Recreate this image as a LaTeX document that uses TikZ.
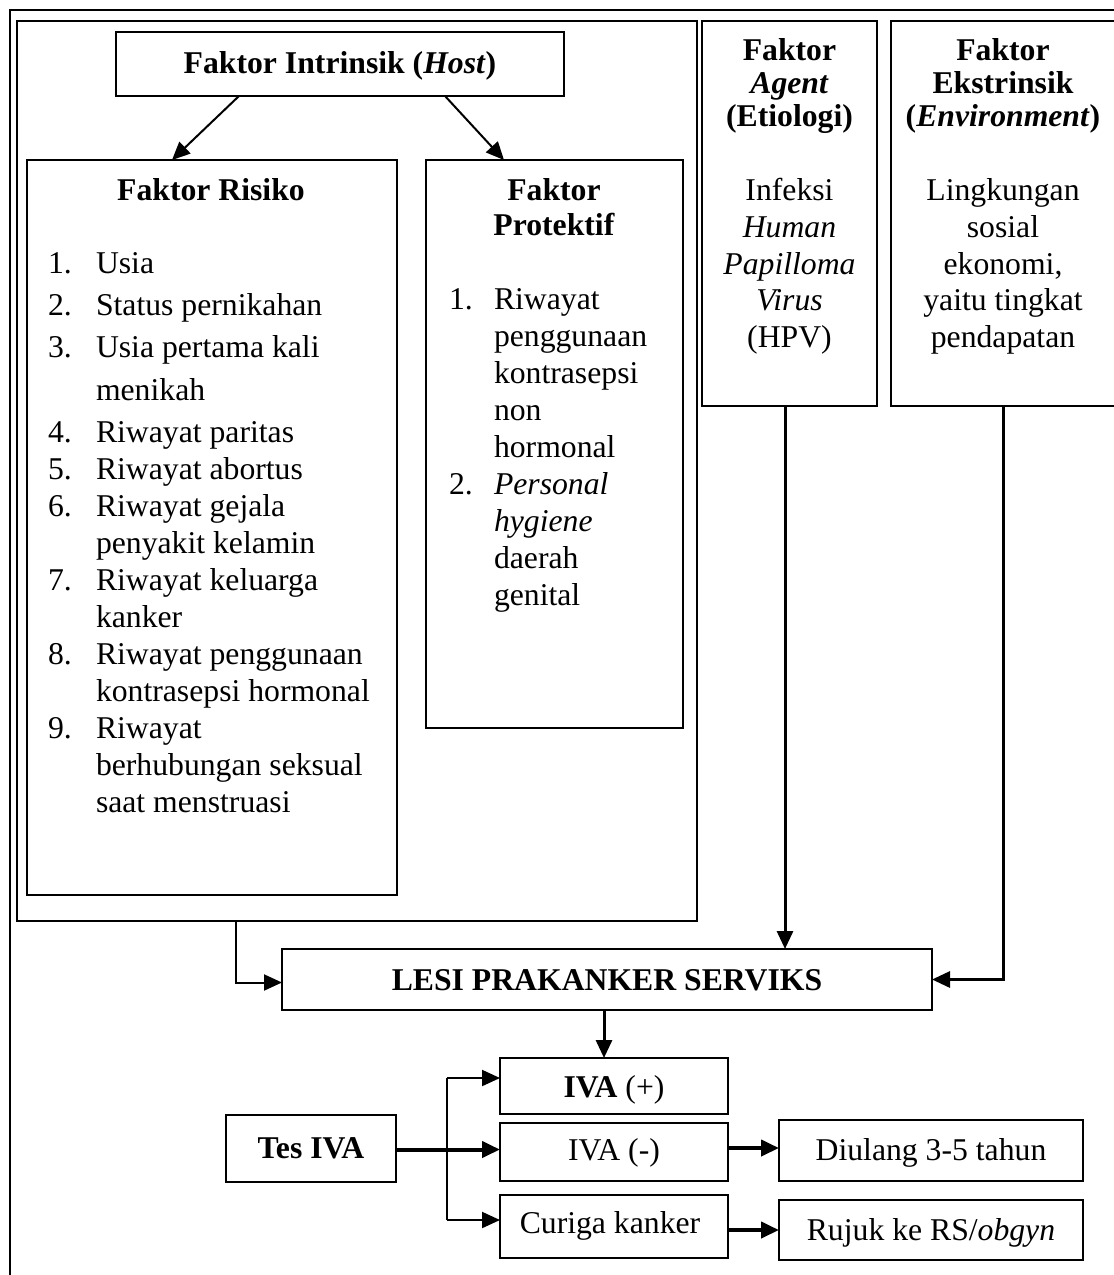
\documentclass[tikz,border=0pt]{standalone}
\usepackage{fontspec}
\setmainfont{Liberation Serif}
\usetikzlibrary{arrows.meta}
\begin{document}
\begin{tikzpicture}[x=1pt,y=-1pt,
  every node/.style={font=\fontsize{31.7}{37}\selectfont, inner sep=0pt, outer sep=0pt},
  box/.style={draw, line width=2pt, anchor=north west},
  thinbox/.style={draw, line width=1.2pt, anchor=north west},
  lbl/.style={anchor=base},
  lbll/.style={anchor=base west},
  tip/.style={-{Triangle[length=18pt,width=16pt]}},
  conn/.style={line width=2pt, tip},
  heavy/.style={line width=3pt, tip},
  thickconn/.style={line width=4pt, tip},
  plain/.style={line width=2pt}
]
\useasboundingbox (0,0) rectangle (1114,1275);
\fill[white] (0,0) rectangle (1114,1275);
% page frame
\draw[line width=2.5pt] (10,1290) -- (10,10) -- (1130,10);

% top boxes
\node[box, minimum width=680pt, minimum height=900pt] (host) at (17,21) {};
\node[box, minimum width=448pt, minimum height=64pt] (intr) at (116,32) {};
\node[lbl] (intrt) at (340,73) {\textbf{Faktor Intrinsik (\textit{Host})}};
\node[box, minimum width=370pt, minimum height=735pt] (risk) at (27,160) {};
\node[box, minimum width=257pt, minimum height=568pt] (prot) at (426,160) {};
\node[box, minimum width=175pt, minimum height=385pt] (agent) at (702,21) {};
\node[box, minimum width=236pt, minimum height=385pt] (env) at (891,21) {};

% Faktor Risiko
\node[lbl] (riskt) at (211,200) {\textbf{Faktor Risiko}};
\foreach \y/\n/\t in {273/1./Usia, 315/2./Status pernikahan, 357/3./Usia pertama kali,
  400//menikah, 442/4./Riwayat paritas, 479/5./Riwayat abortus, 516/6./Riwayat gejala,
  553//penyakit kelamin, 590/7./Riwayat keluarga, 627//kanker, 664/8./Riwayat penggunaan,
  701//kontrasepsi hormonal, 738/9./Riwayat, 775//berhubungan seksual, 812//saat menstruasi}{
  \node[lbll] (rn\y) at (48,\y) {\n};
  \node[lbll] (rt\y) at (96,\y) {\t};
}

% Faktor Protektif
\node[lbl] (prott1) at (554,200) {\textbf{Faktor}};
\node[lbl] (prott2) at (554,235) {\textbf{Protektif}};
\foreach \y/\n/\t in {309/1./Riwayat, 346//penggunaan, 383//kontrasepsi, 420//non,
  457//hormonal, 494/2./\textit{Personal}, 531//\textit{hygiene}, 568//daerah, 605//genital}{
  \node[lbll] (pn\y) at (449,\y) {\n};
  \node[lbll] (pt\y) at (494,\y) {\t};
}

% Agent
\foreach \y/\t in {60/\textbf{Faktor}, 93/\textbf{\textit{Agent}}, 126/\textbf{(Etiologi)},
  200/Infeksi, 237/\textit{Human}, 274/\textit{Papilloma}, 310/\textit{Virus}, 347/(HPV)}{
  \node[lbl] (ag\y) at (789.5,\y) {\t};
}
% Environment
\foreach \y/\t in {60/\textbf{Faktor}, 93/\textbf{Ekstrinsik}, 126/\textbf{(\textit{Environment})},
  200/Lingkungan, 237/sosial, 274/{ekonomi,}, 310/yaitu tingkat, 347/pendapatan}{
  \node[lbl] (en\y) at (1003,\y) {\t};
}

% lower boxes
\node[thinbox, minimum width=650pt, minimum height=61pt] (lesi) at (282,949) {};
\node[lbl] (lesit) at (607,990) {\textbf{LESI PRAKANKER SERVIKS}};
\node[box, minimum width=170pt, minimum height=67pt] (tes) at (226,1115) {};
\node[lbl] (test) at (311,1158) {\textbf{Tes IVA}};
\node[box, minimum width=228pt, minimum height=56pt] (ivap) at (500,1058) {};
\node[lbl] (ivapt) at (614,1097) {\textbf{IVA} (+)};
\node[box, minimum width=228pt, minimum height=58pt] (ivam) at (500,1123) {};
\node[lbl] (ivamt) at (614,1160) {IVA (-)};
\node[box, minimum width=228pt, minimum height=63pt] (cur) at (500,1195) {};
\node[lbl] (curt) at (610,1233) {Curiga kanker};
\node[box, minimum width=304pt, minimum height=61pt] (diu) at (779,1120) {};
\node[lbl] (diut) at (931,1160) {Diulang 3-5 tahun};
\node[box, minimum width=304pt, minimum height=60pt] (ruj) at (779,1200) {};
\node[lbl] (rujt) at (931,1240) {Rujuk ke RS/\textit{obgyn}};

% connectors
\draw[conn] ([xshift=123pt]intr.south west) -- ([xshift=145pt]risk.north west);
\draw[conn] ([xshift=329pt]intr.south west) -- ([xshift=78pt]prot.north west);
\draw[conn] ([xshift=219pt]host.south west) |- ([yshift=-3pt]lesi.west);
\coordinate (ag) at ([xshift=83pt]agent.south west);
\draw[heavy] (ag) -- (ag |- lesi.north);
\draw[heavy] ([xshift=112pt]env.south west) |- (lesi.east);
\coordinate (ls) at ([xshift=322pt]lesi.south west);
\draw[heavy] (ls) -- (ls |- ivap.north);

\coordinate (bt) at (447,1078);
\coordinate (bb) at (447,1220);
\draw[plain] (bt) -- (bb);
\draw[conn] (bt) -- (bt -| ivap.west);
\draw[conn] (bb) -- (bb -| cur.west);
\draw[thickconn] ([yshift=-1pt]tes.east) -- ([yshift=-1pt]tes.east -| ivam.west);
\coordinate (mm) at (728,1148);
\draw[thickconn] (mm) -- (mm -| diu.west);
\coordinate (cm) at (728,1230);
\draw[thickconn] (cm) -- (cm -| ruj.west);
\end{tikzpicture}
\end{document}
